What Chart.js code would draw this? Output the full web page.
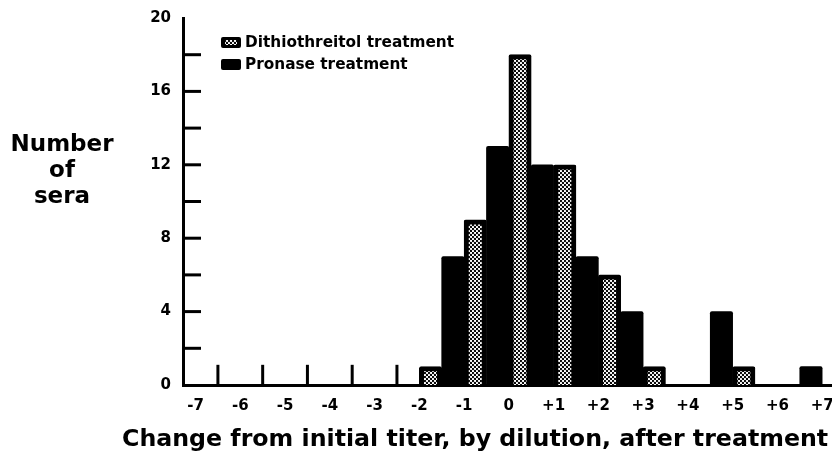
<!DOCTYPE html>
<html>
<head>
<meta charset="utf-8">
<script src="https://cdn.jsdelivr.net/npm/chart.js@4.4.1/dist/chart.umd.min.js"></script>
<style>
  body { margin: 0; background: #fff; overflow: hidden; }
  canvas { display: block; }
</style>
</head>
<body>
<canvas id="titerChart" width="832" height="454"></canvas>
<script>
// Change in titer (dilution steps), one bin per step
const dilutionSteps = [-7, -6, -5, -4, -3, -2, -1, 0, 1, 2, 3, 4, 5, 6, 7];
const pronaseCounts = [0, 0, 0, 0, 0, 0, 7, 13, 12, 7, 4, 0, 4, 0, 1];
const dithiothreitolCounts = [0, 0, 0, 0, 0, 1, 9, 18, 12, 6, 1, 0, 1, 0, 0];
const yTickValues = [0, 4, 8, 12, 16, 20];
const yMinorTicks = [2, 4, 6, 8, 10, 12, 14, 16, 18];

const legendLabels = ['Dithiothreitol treatment', 'Pronase treatment'];
const yTitleLines = ['Number', 'of', 'sera'];
const xTitle = 'Change from initial titer, by dilution, after treatment';

const FONT = '"DejaVu Sans", sans-serif';

// Dotted fill used for the dithiothreitol bars
function makeDotPattern() {
    const tile = document.createElement('canvas');
    tile.width = 4;
    tile.height = 4;
    const c = tile.getContext('2d');
    c.fillStyle = '#fff';
    c.fillRect(0, 0, 4, 4);
    c.fillStyle = '#000';
    [[1, 1], [3, 3]].forEach(([cx, cy]) => {
        c.beginPath();
        c.arc(cx, cy, 1.15, 0, Math.PI * 2);
        c.fill();
    });
    return c.createPattern(tile, 'repeat');
}

const dotPattern = makeDotPattern();

// Short ticks, titles and the legend
const decorations = {
    id: 'decorations',
    beforeDatasetsDraw(chart) {
        const { ctx, chartArea, scales: { x, y } } = chart;
        ctx.save();
        ctx.strokeStyle = '#000';
        ctx.lineWidth = 3;

        // inward ticks on the y axis
        yMinorTicks.forEach(v => {
            const py = y.getPixelForValue(v);
            ctx.beginPath();
            ctx.moveTo(chartArea.left, py);
            ctx.lineTo(chartArea.left + 18, py);
            ctx.stroke();
        });

        // bin boundary ticks where the neighbouring bars are empty
        for (let i = 0; i < dilutionSteps.length - 1; i++) {
            if (dithiothreitolCounts[i] === 0 && pronaseCounts[i + 1] === 0) {
                const px = x.getPixelForValue(dilutionSteps[i] + 0.5);
                ctx.beginPath();
                ctx.moveTo(px, y.getPixelForValue(0));
                ctx.lineTo(px, y.getPixelForValue(1.1));
                ctx.stroke();
            }
        }
        ctx.restore();
    },
    afterDraw(chart) {
        const ctx = chart.ctx;
        ctx.save();
        ctx.fillStyle = '#000';

        // y title, stacked horizontally
        ctx.font = 'bold 23px ' + FONT;
        ctx.textAlign = 'center';
        ctx.textBaseline = 'alphabetic';
        yTitleLines.forEach((line, i) => {
            ctx.fillText(line, 62, 151 + i * 26);
        });

        // x title
        ctx.font = 'bold 23.7px ' + FONT;
        ctx.textAlign = 'left';
        ctx.fillText(xTitle, 122, 446);

        // legend: dithiothreitol first, then pronase
        const items = [chart.data.datasets[1], chart.data.datasets[0]];
        items.forEach((ds, i) => {
            const top = 37 + i * 22;
            ctx.fillStyle = '#000';
            ctx.beginPath();
            ctx.roundRect(221, top, 20, 11, 2);
            ctx.fill();
            if (ds.borderWidth) {
                ctx.fillStyle = ds.backgroundColor;
                ctx.fillRect(225, top + 3, 12, 5);
            }
            ctx.fillStyle = '#000';
            ctx.font = 'bold 15.3px ' + FONT;
            ctx.textAlign = 'left';
            ctx.textBaseline = 'middle';
            ctx.fillText(ds.label, 245, top + 6);
        });
        ctx.restore();
    }
};

const ctx = document.getElementById('titerChart').getContext('2d');

new Chart(ctx, {
    type: 'bar',
    data: {
        datasets: [{
            label: legendLabels[1],
            data: dilutionSteps.map((v, i) => ({ x: v, y: pronaseCounts[i] })),
            backgroundColor: '#000',
            borderWidth: 0,
            borderRadius: 2
        }, {
            label: legendLabels[0],
            data: dilutionSteps.map((v, i) => ({ x: v, y: dithiothreitolCounts[i] })),
            backgroundColor: dotPattern,
            borderColor: '#000',
            borderWidth: 5,
            borderRadius: 2
        }]
    },
    options: {
        responsive: false,
        animation: false,
        categoryPercentage: 1,
        barPercentage: 1,
        layout: {
            padding: { top: 18, left: 0, right: 0, bottom: 0 }
        },
        plugins: {
            legend: { display: false },
            tooltip: { enabled: false }
        },
        scales: {
            x: {
                type: 'linear',
                bounds: 'data',
                offset: false,
                min: -7.28,
                max: 7.22,
                afterBuildTicks: scale => {
                    scale.ticks = dilutionSteps.map(v => ({ value: v }));
                },
                afterFit: scale => {
                    scale.height = 69;
                    scale.paddingLeft = 0;
                    scale.paddingRight = 0;
                },
                grid: { display: false, drawTicks: false, offset: false },
                border: { display: true, color: '#000', width: 3 },
                ticks: {
                    padding: 12,
                    color: '#000',
                    autoSkip: false,
                    maxRotation: 0,
                    font: { family: FONT, size: 15, weight: 'bold' },
                    callback: v => (v > 0 ? '+' + v : String(v))
                }
            },
            y: {
                min: 0,
                max: 20,
                afterBuildTicks: scale => {
                    scale.ticks = yTickValues.map(v => ({ value: v }));
                },
                afterFit: scale => {
                    scale.width = 183;
                    scale.paddingTop = 0;
                    scale.paddingBottom = 0;
                },
                grid: { display: false, drawTicks: false },
                border: { display: true, color: '#000', width: 3 },
                ticks: {
                    padding: 12,
                    color: '#000',
                    font: { family: FONT, size: 15, weight: 'bold' }
                }
            }
        }
    },
    plugins: [decorations]
});
</script>
</body>
</html>
